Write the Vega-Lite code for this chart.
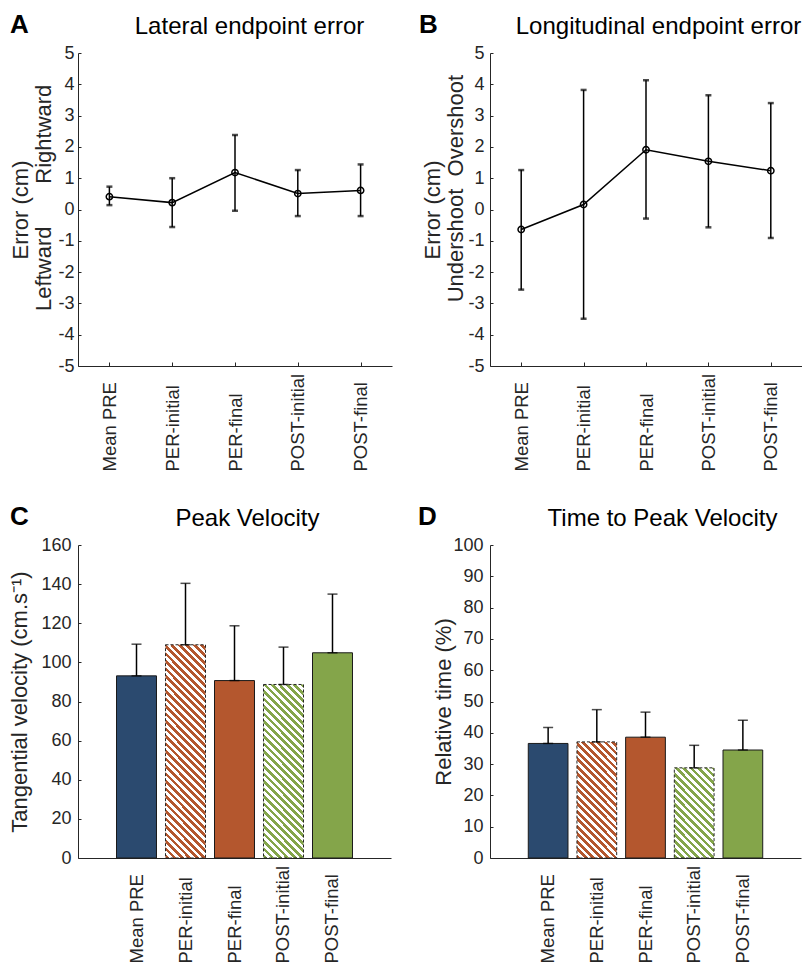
{
 "$schema": "https://vega.github.io/schema/vega-lite/v6.json",
 "autosize": {"type": "pad"},
 "padding": {"left": 8, "top": 12, "right": 0, "bottom": 0},
 "background": "white",
 "datasets": {
  "lat": [
   {"cond": "Mean PRE", "mean": 0.41, "lo": 0.14, "hi": 0.73},
   {"cond": "PER-initial", "mean": 0.22, "lo": -0.56, "hi": 1.0},
   {"cond": "PER-final", "mean": 1.18, "lo": -0.04, "hi": 2.38},
   {"cond": "POST-initial", "mean": 0.51, "lo": -0.21, "hi": 1.26},
   {"cond": "POST-final", "mean": 0.61, "lo": -0.21, "hi": 1.44}
  ],
  "lon": [
   {"cond": "Mean PRE", "mean": -0.64, "lo": -2.56, "hi": 1.26},
   {"cond": "PER-initial", "mean": 0.16, "lo": -3.49, "hi": 3.82},
   {"cond": "PER-final", "mean": 1.91, "lo": -0.29, "hi": 4.13},
   {"cond": "POST-initial", "mean": 1.54, "lo": -0.57, "hi": 3.65},
   {"cond": "POST-final", "mean": 1.24, "lo": -0.91, "hi": 3.40}
  ],
  "vel": [
   {"cond": "Mean PRE", "mean": 93.1, "hi": 109.3},
   {"cond": "PER-initial", "mean": 109.0, "hi": 140.4},
   {"cond": "PER-final", "mean": 90.7, "hi": 118.7},
   {"cond": "POST-initial", "mean": 88.7, "hi": 107.8},
   {"cond": "POST-final", "mean": 104.9, "hi": 134.9}
  ],
  "tpv": [
   {"cond": "Mean PRE", "mean": 36.6, "hi": 41.7},
   {"cond": "PER-initial", "mean": 37.1, "hi": 47.4},
   {"cond": "PER-final", "mean": 38.6, "hi": 46.6},
   {"cond": "POST-initial", "mean": 28.8, "hi": 36.0},
   {"cond": "POST-final", "mean": 34.5, "hi": 44.0}
  ]
 },
 "columns": 2,
 "spacing": {"row": 179, "column": 98},
 "bounds": "flush",
 "concat": [
  {
   "width": 314, "height": 313,
   "title": {"text": "A", "anchor": "start", "frame": "group", "dx": -68, "dy": 45, "offset": 0, "baseline": "alphabetic", "fontSize": 26, "fontWeight": "bold"},
   "data": {"name": "lat"},
   "resolve": {"axis": {"x": "independent", "y": "independent"}},
   "encoding": {"x": {"field": "cond", "type": "nominal", "scale": {"type": "point", "padding": 0.5, "domain": ["Mean PRE", "PER-initial", "PER-final", "POST-initial", "POST-final"]}, "axis": null}},
   "layer": [
    {"mark": {"type": "rule", "color": "black", "strokeWidth": 1.5}, "encoding": {
      "x": {"field": "cond", "type": "nominal", "scale": {"type": "point", "padding": 0.5, "domain": ["Mean PRE", "PER-initial", "PER-final", "POST-initial", "POST-final"]}, "axis": {"orient": "bottom", "title": null, "labelAngle": -90, "labelAlign": "left", "labelBaseline": "middle", "labelPadding": 109, "tickSize": -4, "labelOverlap": false, "labelFontSize": 18.5, "labelLimit": 200}},
      "y": {"field": "lo", "type": "quantitative", "scale": {"domain": [-5, 5], "nice": false, "zero": false}, "axis": {"orient": "left", "title": ["Error (cm)", "\u200b\u00a0\u00a0\u00a0\u00a0Leftward\u00a0\u00a0\u00a0\u00a0\u00a0\u00a0\u00a0Rightward"], "values": [-5, -4, -3, -2, -1, 0, 1, 2, 3, 4, 5], "labelExpr": "'' + datum.value", "labelOverlap": false, "tickSize": -3, "labelPadding": 7, "titlePadding": 2, "titleLineHeight": 23, "labelFontSize": 18, "titleFontSize": 22}},
      "y2": {"field": "hi"}}},
    {"mark": {"type": "tick", "color": "black", "size": 6, "thickness": 2.5}, "encoding": {"y": {"field": "lo", "type": "quantitative", "scale": {"domain": [-5, 5], "nice": false, "zero": false}, "axis": null}}},
    {"mark": {"type": "tick", "color": "black", "size": 6, "thickness": 2.5}, "encoding": {"y": {"field": "hi", "type": "quantitative", "scale": {"domain": [-5, 5], "nice": false, "zero": false}, "axis": null}}},
    {"mark": {"type": "line", "color": "black", "strokeWidth": 1.5}, "encoding": {
      "x": {"field": "cond", "type": "nominal", "sort": ["Mean PRE", "PER-initial", "PER-final", "POST-initial", "POST-final"], "scale": {"type": "point", "padding": 0.5, "domain": ["Mean PRE", "PER-initial", "PER-final", "POST-initial", "POST-final"]}, "axis": {"orient": "top", "title": "Lateral endpoint error", "labels": false, "ticks": false, "domain": false, "grid": false, "titleFontSize": 24, "titleFontWeight": "normal", "titleColor": "#000000", "titleX": 171, "titleY": -20, "titleBaseline": "alphabetic", "titleAlign": "center"}},
      "y": {"field": "mean", "type": "quantitative", "scale": {"domain": [-5, 5], "nice": false, "zero": false}, "axis": null}}},
    {"mark": {"type": "point", "shape": "circle", "filled": false, "color": "black", "size": 40, "strokeWidth": 1.5, "opacity": 1}, "encoding": {"y": {"field": "mean", "type": "quantitative", "scale": {"domain": [-5, 5], "nice": false, "zero": false}, "axis": null}}}
   ]
  },
  {
   "width": 312, "height": 313,
   "title": {"text": "B", "anchor": "start", "frame": "group", "dx": -71, "dy": 45, "offset": 0, "baseline": "alphabetic", "fontSize": 26, "fontWeight": "bold"},
   "data": {"name": "lon"},
   "resolve": {"axis": {"x": "independent", "y": "independent"}},
   "encoding": {"x": {"field": "cond", "type": "nominal", "scale": {"type": "point", "padding": 0.5, "domain": ["Mean PRE", "PER-initial", "PER-final", "POST-initial", "POST-final"]}, "axis": null}},
   "layer": [
    {"mark": {"type": "rule", "color": "black", "strokeWidth": 1.5}, "encoding": {
      "x": {"field": "cond", "type": "nominal", "scale": {"type": "point", "padding": 0.5, "domain": ["Mean PRE", "PER-initial", "PER-final", "POST-initial", "POST-final"]}, "axis": {"orient": "bottom", "title": null, "labelAngle": -90, "labelAlign": "left", "labelBaseline": "middle", "labelPadding": 109, "tickSize": -4, "labelOverlap": false, "labelFontSize": 18.5, "labelLimit": 200}},
      "y": {"field": "lo", "type": "quantitative", "scale": {"domain": [-5, 5], "nice": false, "zero": false}, "axis": {"orient": "left", "title": ["Error (cm)", "\u200b\u00a0\u00a0\u00a0\u00a0\u00a0\u00a0\u00a0Undershoot\u00a0\u00a0Overshoot"], "values": [-5, -4, -3, -2, -1, 0, 1, 2, 3, 4, 5], "labelExpr": "'' + datum.value", "labelOverlap": false, "tickSize": -3, "labelPadding": 9, "titlePadding": 0, "titleLineHeight": 23, "labelFontSize": 18, "titleFontSize": 22}},
      "y2": {"field": "hi"}}},
    {"mark": {"type": "tick", "color": "black", "size": 6, "thickness": 2.5}, "encoding": {"y": {"field": "lo", "type": "quantitative", "scale": {"domain": [-5, 5], "nice": false, "zero": false}, "axis": null}}},
    {"mark": {"type": "tick", "color": "black", "size": 6, "thickness": 2.5}, "encoding": {"y": {"field": "hi", "type": "quantitative", "scale": {"domain": [-5, 5], "nice": false, "zero": false}, "axis": null}}},
    {"mark": {"type": "line", "color": "black", "strokeWidth": 1.5}, "encoding": {
      "x": {"field": "cond", "type": "nominal", "sort": ["Mean PRE", "PER-initial", "PER-final", "POST-initial", "POST-final"], "scale": {"type": "point", "padding": 0.5, "domain": ["Mean PRE", "PER-initial", "PER-final", "POST-initial", "POST-final"]}, "axis": {"orient": "top", "title": "Longitudinal endpoint error", "labels": false, "ticks": false, "domain": false, "grid": false, "titleFontSize": 24, "titleFontWeight": "normal", "titleColor": "#000000", "titleX": 168, "titleY": -20, "titleBaseline": "alphabetic", "titleAlign": "center"}},
      "y": {"field": "mean", "type": "quantitative", "scale": {"domain": [-5, 5], "nice": false, "zero": false}, "axis": null}}},
    {"mark": {"type": "point", "shape": "circle", "filled": false, "color": "black", "size": 40, "strokeWidth": 1.5, "opacity": 1}, "encoding": {"y": {"field": "mean", "type": "quantitative", "scale": {"domain": [-5, 5], "nice": false, "zero": false}, "axis": null}}}
   ]
  },
  {
   "width": 313, "height": 313,
   "title": {"text": "C", "anchor": "start", "frame": "group", "dx": -68, "dy": 45, "offset": 0, "baseline": "alphabetic", "fontSize": 26, "fontWeight": "bold"},
   "data": {"name": "vel"},
   "resolve": {"axis": {"x": "independent", "y": "independent"}},
   "encoding": {"x": {"field": "cond", "type": "nominal", "scale": {"type": "band", "domain": ["Mean PRE", "PER-initial", "PER-final", "POST-initial", "POST-final"], "paddingInner": 0.184, "paddingOuter": 0.786}, "axis": null}},
   "layer": [
    {"transform": [{"filter": {"field": "cond", "oneOf": ["Mean PRE", "PER-final", "POST-final"]}}], "mark": {"type": "bar", "stroke": "#1a1a1a", "strokeWidth": 1}, "encoding": {
      "x": {"field": "cond", "type": "nominal", "scale": {"type": "band", "domain": ["Mean PRE", "PER-initial", "PER-final", "POST-initial", "POST-final"], "paddingInner": 0.184, "paddingOuter": 0.786}, "axis": {"orient": "bottom", "title": null, "labelAngle": -90, "labelAlign": "left", "labelBaseline": "middle", "labelPadding": 109, "tickSize": -4, "labelOverlap": false, "labelFontSize": 18.5, "labelLimit": 200}},
      "y": {"field": "mean", "type": "quantitative", "scale": {"domain": [0, 160], "nice": false}, "axis": {"orient": "left", "title": "Tangential velocity (cm.s\u207b\u00b9)", "values": [0, 20, 40, 60, 80, 100, 120, 140, 160], "labelOverlap": false, "tickSize": -3, "labelPadding": 10, "titlePadding": 9, "labelFontSize": 18, "titleFontSize": 22}},
      "fill": {"field": "cond", "type": "nominal", "scale": {"domain": ["Mean PRE", "PER-final", "POST-final"], "range": ["#2b4a6f", "#b4572e", "#84a54a"]}, "legend": null}}},
    {"transform": [{"filter": {"field": "cond", "equal": "PER-initial"}}], "mark": {"type": "bar", "stroke": "#262626", "strokeDash": [3, 2], "strokeWidth": 1, "fill": {"gradient": "linear", "x1": 0, "y1": 1, "x2": 0.3187, "y2": -0.6988, "stops": [
{"offset":0,"color":"#b4572e"},
{"offset":0.01,"color":"#b4572e"},{"offset":0.01,"color":"#fff"},{"offset":0.02,"color":"#fff"},{"offset":0.02,"color":"#b4572e"},
{"offset":0.03,"color":"#b4572e"},{"offset":0.03,"color":"#fff"},{"offset":0.04,"color":"#fff"},{"offset":0.04,"color":"#b4572e"},
{"offset":0.05,"color":"#b4572e"},{"offset":0.05,"color":"#fff"},{"offset":0.06,"color":"#fff"},{"offset":0.06,"color":"#b4572e"},
{"offset":0.07,"color":"#b4572e"},{"offset":0.07,"color":"#fff"},{"offset":0.08,"color":"#fff"},{"offset":0.08,"color":"#b4572e"},
{"offset":0.09,"color":"#b4572e"},{"offset":0.09,"color":"#fff"},{"offset":0.10,"color":"#fff"},{"offset":0.10,"color":"#b4572e"},
{"offset":0.11,"color":"#b4572e"},{"offset":0.11,"color":"#fff"},{"offset":0.12,"color":"#fff"},{"offset":0.12,"color":"#b4572e"},
{"offset":0.13,"color":"#b4572e"},{"offset":0.13,"color":"#fff"},{"offset":0.14,"color":"#fff"},{"offset":0.14,"color":"#b4572e"},
{"offset":0.15,"color":"#b4572e"},{"offset":0.15,"color":"#fff"},{"offset":0.16,"color":"#fff"},{"offset":0.16,"color":"#b4572e"},
{"offset":0.17,"color":"#b4572e"},{"offset":0.17,"color":"#fff"},{"offset":0.18,"color":"#fff"},{"offset":0.18,"color":"#b4572e"},
{"offset":0.19,"color":"#b4572e"},{"offset":0.19,"color":"#fff"},{"offset":0.20,"color":"#fff"},{"offset":0.20,"color":"#b4572e"},
{"offset":0.21,"color":"#b4572e"},{"offset":0.21,"color":"#fff"},{"offset":0.22,"color":"#fff"},{"offset":0.22,"color":"#b4572e"},
{"offset":0.23,"color":"#b4572e"},{"offset":0.23,"color":"#fff"},{"offset":0.24,"color":"#fff"},{"offset":0.24,"color":"#b4572e"},
{"offset":0.25,"color":"#b4572e"},{"offset":0.25,"color":"#fff"},{"offset":0.26,"color":"#fff"},{"offset":0.26,"color":"#b4572e"},
{"offset":0.27,"color":"#b4572e"},{"offset":0.27,"color":"#fff"},{"offset":0.28,"color":"#fff"},{"offset":0.28,"color":"#b4572e"},
{"offset":0.29,"color":"#b4572e"},{"offset":0.29,"color":"#fff"},{"offset":0.30,"color":"#fff"},{"offset":0.30,"color":"#b4572e"},
{"offset":0.31,"color":"#b4572e"},{"offset":0.31,"color":"#fff"},{"offset":0.32,"color":"#fff"},{"offset":0.32,"color":"#b4572e"},
{"offset":0.33,"color":"#b4572e"},{"offset":0.33,"color":"#fff"},{"offset":0.34,"color":"#fff"},{"offset":0.34,"color":"#b4572e"},
{"offset":0.35,"color":"#b4572e"},{"offset":0.35,"color":"#fff"},{"offset":0.36,"color":"#fff"},{"offset":0.36,"color":"#b4572e"},
{"offset":0.37,"color":"#b4572e"},{"offset":0.37,"color":"#fff"},{"offset":0.38,"color":"#fff"},{"offset":0.38,"color":"#b4572e"},
{"offset":0.39,"color":"#b4572e"},{"offset":0.39,"color":"#fff"},{"offset":0.40,"color":"#fff"},{"offset":0.40,"color":"#b4572e"},
{"offset":0.41,"color":"#b4572e"},{"offset":0.41,"color":"#fff"},{"offset":0.42,"color":"#fff"},{"offset":0.42,"color":"#b4572e"},
{"offset":0.43,"color":"#b4572e"},{"offset":0.43,"color":"#fff"},{"offset":0.44,"color":"#fff"},{"offset":0.44,"color":"#b4572e"},
{"offset":0.45,"color":"#b4572e"},{"offset":0.45,"color":"#fff"},{"offset":0.46,"color":"#fff"},{"offset":0.46,"color":"#b4572e"},
{"offset":0.47,"color":"#b4572e"},{"offset":0.47,"color":"#fff"},{"offset":0.48,"color":"#fff"},{"offset":0.48,"color":"#b4572e"},
{"offset":0.49,"color":"#b4572e"},{"offset":0.49,"color":"#fff"},{"offset":0.50,"color":"#fff"},{"offset":0.50,"color":"#b4572e"},
{"offset":0.51,"color":"#b4572e"},{"offset":0.51,"color":"#fff"},{"offset":0.52,"color":"#fff"},{"offset":0.52,"color":"#b4572e"},
{"offset":0.53,"color":"#b4572e"},{"offset":0.53,"color":"#fff"},{"offset":0.54,"color":"#fff"},{"offset":0.54,"color":"#b4572e"},
{"offset":0.55,"color":"#b4572e"},{"offset":0.55,"color":"#fff"},{"offset":0.56,"color":"#fff"},{"offset":0.56,"color":"#b4572e"},
{"offset":0.57,"color":"#b4572e"},{"offset":0.57,"color":"#fff"},{"offset":0.58,"color":"#fff"},{"offset":0.58,"color":"#b4572e"},
{"offset":0.59,"color":"#b4572e"},{"offset":0.59,"color":"#fff"},{"offset":0.60,"color":"#fff"},{"offset":0.60,"color":"#b4572e"},
{"offset":0.61,"color":"#b4572e"},{"offset":0.61,"color":"#fff"},{"offset":0.62,"color":"#fff"},{"offset":0.62,"color":"#b4572e"},
{"offset":0.63,"color":"#b4572e"},{"offset":0.63,"color":"#fff"},{"offset":0.64,"color":"#fff"},{"offset":0.64,"color":"#b4572e"},
{"offset":0.65,"color":"#b4572e"},{"offset":0.65,"color":"#fff"},{"offset":0.66,"color":"#fff"},{"offset":0.66,"color":"#b4572e"},
{"offset":0.67,"color":"#b4572e"},{"offset":0.67,"color":"#fff"},{"offset":0.68,"color":"#fff"}
]}}, "encoding": {"y": {"field": "mean", "type": "quantitative", "scale": {"domain": [0, 160], "nice": false}, "axis": null}}},
    {"transform": [{"filter": {"field": "cond", "equal": "POST-initial"}}], "mark": {"type": "bar", "stroke": "#262626", "strokeDash": [3, 2], "strokeWidth": 1, "fill": {"gradient": "linear", "x1": 0, "y1": 1, "x2": 0.4730, "y2": -1.0521, "stops": [
{"offset":0,"color":"#84a54a"},
{"offset":0.01,"color":"#84a54a"},{"offset":0.01,"color":"#fff"},{"offset":0.02,"color":"#fff"},{"offset":0.02,"color":"#84a54a"},
{"offset":0.03,"color":"#84a54a"},{"offset":0.03,"color":"#fff"},{"offset":0.04,"color":"#fff"},{"offset":0.04,"color":"#84a54a"},
{"offset":0.05,"color":"#84a54a"},{"offset":0.05,"color":"#fff"},{"offset":0.06,"color":"#fff"},{"offset":0.06,"color":"#84a54a"},
{"offset":0.07,"color":"#84a54a"},{"offset":0.07,"color":"#fff"},{"offset":0.08,"color":"#fff"},{"offset":0.08,"color":"#84a54a"},
{"offset":0.09,"color":"#84a54a"},{"offset":0.09,"color":"#fff"},{"offset":0.10,"color":"#fff"},{"offset":0.10,"color":"#84a54a"},
{"offset":0.11,"color":"#84a54a"},{"offset":0.11,"color":"#fff"},{"offset":0.12,"color":"#fff"},{"offset":0.12,"color":"#84a54a"},
{"offset":0.13,"color":"#84a54a"},{"offset":0.13,"color":"#fff"},{"offset":0.14,"color":"#fff"},{"offset":0.14,"color":"#84a54a"},
{"offset":0.15,"color":"#84a54a"},{"offset":0.15,"color":"#fff"},{"offset":0.16,"color":"#fff"},{"offset":0.16,"color":"#84a54a"},
{"offset":0.17,"color":"#84a54a"},{"offset":0.17,"color":"#fff"},{"offset":0.18,"color":"#fff"},{"offset":0.18,"color":"#84a54a"},
{"offset":0.19,"color":"#84a54a"},{"offset":0.19,"color":"#fff"},{"offset":0.20,"color":"#fff"},{"offset":0.20,"color":"#84a54a"},
{"offset":0.21,"color":"#84a54a"},{"offset":0.21,"color":"#fff"},{"offset":0.22,"color":"#fff"},{"offset":0.22,"color":"#84a54a"},
{"offset":0.23,"color":"#84a54a"},{"offset":0.23,"color":"#fff"},{"offset":0.24,"color":"#fff"},{"offset":0.24,"color":"#84a54a"},
{"offset":0.25,"color":"#84a54a"},{"offset":0.25,"color":"#fff"},{"offset":0.26,"color":"#fff"},{"offset":0.26,"color":"#84a54a"},
{"offset":0.27,"color":"#84a54a"},{"offset":0.27,"color":"#fff"},{"offset":0.28,"color":"#fff"},{"offset":0.28,"color":"#84a54a"},
{"offset":0.29,"color":"#84a54a"},{"offset":0.29,"color":"#fff"},{"offset":0.30,"color":"#fff"},{"offset":0.30,"color":"#84a54a"},
{"offset":0.31,"color":"#84a54a"},{"offset":0.31,"color":"#fff"},{"offset":0.32,"color":"#fff"},{"offset":0.32,"color":"#84a54a"},
{"offset":0.33,"color":"#84a54a"},{"offset":0.33,"color":"#fff"},{"offset":0.34,"color":"#fff"},{"offset":0.34,"color":"#84a54a"},
{"offset":0.35,"color":"#84a54a"},{"offset":0.35,"color":"#fff"},{"offset":0.36,"color":"#fff"},{"offset":0.36,"color":"#84a54a"},
{"offset":0.37,"color":"#84a54a"},{"offset":0.37,"color":"#fff"},{"offset":0.38,"color":"#fff"},{"offset":0.38,"color":"#84a54a"},
{"offset":0.39,"color":"#84a54a"},{"offset":0.39,"color":"#fff"},{"offset":0.40,"color":"#fff"},{"offset":0.40,"color":"#84a54a"},
{"offset":0.41,"color":"#84a54a"},{"offset":0.41,"color":"#fff"},{"offset":0.42,"color":"#fff"},{"offset":0.42,"color":"#84a54a"},
{"offset":0.43,"color":"#84a54a"},{"offset":0.43,"color":"#fff"},{"offset":0.44,"color":"#fff"},{"offset":0.44,"color":"#84a54a"},
{"offset":0.45,"color":"#84a54a"},{"offset":0.45,"color":"#fff"},{"offset":0.46,"color":"#fff"},{"offset":0.46,"color":"#84a54a"},
{"offset":0.47,"color":"#84a54a"},{"offset":0.47,"color":"#fff"},{"offset":0.48,"color":"#fff"},{"offset":0.48,"color":"#84a54a"},
{"offset":0.49,"color":"#84a54a"},{"offset":0.49,"color":"#fff"},{"offset":0.50,"color":"#fff"},{"offset":0.50,"color":"#84a54a"},
{"offset":0.51,"color":"#84a54a"},{"offset":0.51,"color":"#fff"},{"offset":0.52,"color":"#fff"},{"offset":0.52,"color":"#84a54a"},
{"offset":0.53,"color":"#84a54a"},{"offset":0.53,"color":"#fff"},{"offset":0.54,"color":"#fff"},{"offset":0.54,"color":"#84a54a"},
{"offset":0.55,"color":"#84a54a"},{"offset":0.55,"color":"#fff"},{"offset":0.56,"color":"#fff"},{"offset":0.56,"color":"#84a54a"},
{"offset":0.57,"color":"#84a54a"},{"offset":0.57,"color":"#fff"},{"offset":0.58,"color":"#fff"}
]}}, "encoding": {"y": {"field": "mean", "type": "quantitative", "scale": {"domain": [0, 160], "nice": false}, "axis": null}}},
    {"mark": {"type": "rule", "color": "black", "strokeWidth": 1.5}, "encoding": {
      "x": {"field": "cond", "type": "nominal", "scale": {"type": "band", "domain": ["Mean PRE", "PER-initial", "PER-final", "POST-initial", "POST-final"], "paddingInner": 0.184, "paddingOuter": 0.786}, "axis": {"orient": "top", "title": "Peak Velocity", "labels": false, "ticks": false, "domain": false, "grid": false, "titleFontSize": 24, "titleFontWeight": "normal", "titleColor": "#000000", "titleX": 169, "titleY": -20, "titleBaseline": "alphabetic", "titleAlign": "center"}},
      "y": {"field": "mean", "type": "quantitative", "scale": {"domain": [0, 160], "nice": false}, "axis": null}, "y2": {"field": "hi"}}},
    {"mark": {"type": "tick", "color": "black", "size": 10, "thickness": 1.5}, "encoding": {"y": {"field": "hi", "type": "quantitative", "scale": {"domain": [0, 160], "nice": false}, "axis": null}}},
    {"mark": {"type": "tick", "color": "black", "size": 10, "thickness": 1.5}, "encoding": {"y": {"field": "mean", "type": "quantitative", "scale": {"domain": [0, 160], "nice": false}, "axis": null}}}
   ]
  },
  {
   "width": 311, "height": 313,
   "title": {"text": "D", "anchor": "start", "frame": "group", "dx": -72, "dy": 45, "offset": 0, "baseline": "alphabetic", "fontSize": 26, "fontWeight": "bold"},
   "data": {"name": "tpv"},
   "resolve": {"axis": {"x": "independent", "y": "independent"}},
   "encoding": {"x": {"field": "cond", "type": "nominal", "scale": {"type": "band", "domain": ["Mean PRE", "PER-initial", "PER-final", "POST-initial", "POST-final"], "paddingInner": 0.184, "paddingOuter": 0.786}, "axis": null}},
   "layer": [
    {"transform": [{"filter": {"field": "cond", "oneOf": ["Mean PRE", "PER-final", "POST-final"]}}], "mark": {"type": "bar", "stroke": "#1a1a1a", "strokeWidth": 1}, "encoding": {
      "x": {"field": "cond", "type": "nominal", "scale": {"type": "band", "domain": ["Mean PRE", "PER-initial", "PER-final", "POST-initial", "POST-final"], "paddingInner": 0.184, "paddingOuter": 0.786}, "axis": {"orient": "bottom", "title": null, "labelAngle": -90, "labelAlign": "left", "labelBaseline": "middle", "labelPadding": 109, "tickSize": -4, "labelOverlap": false, "labelFontSize": 18.5, "labelLimit": 200}},
      "y": {"field": "mean", "type": "quantitative", "scale": {"domain": [0, 100], "nice": false}, "axis": {"orient": "left", "title": "Relative time (%)", "values": [0, 10, 20, 30, 40, 50, 60, 70, 80, 90, 100], "labelOverlap": false, "tickSize": -3, "labelPadding": 10, "titlePadding": -3, "labelFontSize": 18, "titleFontSize": 22}},
      "fill": {"field": "cond", "type": "nominal", "scale": {"domain": ["Mean PRE", "PER-final", "POST-final"], "range": ["#2b4a6f", "#b4572e", "#84a54a"]}, "legend": null}}},
    {"transform": [{"filter": {"field": "cond", "equal": "PER-initial"}}], "mark": {"type": "bar", "stroke": "#262626", "strokeDash": [3, 2], "strokeWidth": 1, "fill": {"gradient": "linear", "x1": 0, "y1": 1, "x2": 0.9944, "y2": -1.8869, "stops": [
{"offset":0,"color":"#b4572e"},
{"offset":0.01,"color":"#b4572e"},{"offset":0.01,"color":"#fff"},{"offset":0.02,"color":"#fff"},{"offset":0.02,"color":"#b4572e"},
{"offset":0.03,"color":"#b4572e"},{"offset":0.03,"color":"#fff"},{"offset":0.04,"color":"#fff"},{"offset":0.04,"color":"#b4572e"},
{"offset":0.05,"color":"#b4572e"},{"offset":0.05,"color":"#fff"},{"offset":0.06,"color":"#fff"},{"offset":0.06,"color":"#b4572e"},
{"offset":0.07,"color":"#b4572e"},{"offset":0.07,"color":"#fff"},{"offset":0.08,"color":"#fff"},{"offset":0.08,"color":"#b4572e"},
{"offset":0.09,"color":"#b4572e"},{"offset":0.09,"color":"#fff"},{"offset":0.10,"color":"#fff"},{"offset":0.10,"color":"#b4572e"},
{"offset":0.11,"color":"#b4572e"},{"offset":0.11,"color":"#fff"},{"offset":0.12,"color":"#fff"},{"offset":0.12,"color":"#b4572e"},
{"offset":0.13,"color":"#b4572e"},{"offset":0.13,"color":"#fff"},{"offset":0.14,"color":"#fff"},{"offset":0.14,"color":"#b4572e"},
{"offset":0.15,"color":"#b4572e"},{"offset":0.15,"color":"#fff"},{"offset":0.16,"color":"#fff"},{"offset":0.16,"color":"#b4572e"},
{"offset":0.17,"color":"#b4572e"},{"offset":0.17,"color":"#fff"},{"offset":0.18,"color":"#fff"},{"offset":0.18,"color":"#b4572e"},
{"offset":0.19,"color":"#b4572e"},{"offset":0.19,"color":"#fff"},{"offset":0.20,"color":"#fff"},{"offset":0.20,"color":"#b4572e"},
{"offset":0.21,"color":"#b4572e"},{"offset":0.21,"color":"#fff"},{"offset":0.22,"color":"#fff"},{"offset":0.22,"color":"#b4572e"},
{"offset":0.23,"color":"#b4572e"},{"offset":0.23,"color":"#fff"},{"offset":0.24,"color":"#fff"},{"offset":0.24,"color":"#b4572e"},
{"offset":0.25,"color":"#b4572e"},{"offset":0.25,"color":"#fff"},{"offset":0.26,"color":"#fff"},{"offset":0.26,"color":"#b4572e"},
{"offset":0.27,"color":"#b4572e"},{"offset":0.27,"color":"#fff"},{"offset":0.28,"color":"#fff"},{"offset":0.28,"color":"#b4572e"},
{"offset":0.29,"color":"#b4572e"},{"offset":0.29,"color":"#fff"},{"offset":0.30,"color":"#fff"},{"offset":0.30,"color":"#b4572e"},
{"offset":0.31,"color":"#b4572e"},{"offset":0.31,"color":"#fff"},{"offset":0.32,"color":"#fff"},{"offset":0.32,"color":"#b4572e"},
{"offset":0.33,"color":"#b4572e"},{"offset":0.33,"color":"#fff"},{"offset":0.34,"color":"#fff"},{"offset":0.34,"color":"#b4572e"},
{"offset":0.35,"color":"#b4572e"},{"offset":0.35,"color":"#fff"},{"offset":0.36,"color":"#fff"},{"offset":0.36,"color":"#b4572e"},
{"offset":0.37,"color":"#b4572e"},{"offset":0.37,"color":"#fff"},{"offset":0.38,"color":"#fff"},{"offset":0.38,"color":"#b4572e"},
{"offset":0.39,"color":"#b4572e"},{"offset":0.39,"color":"#fff"},{"offset":0.40,"color":"#fff"},{"offset":0.40,"color":"#b4572e"},
{"offset":0.41,"color":"#b4572e"},{"offset":0.41,"color":"#fff"},{"offset":0.42,"color":"#fff"}
]}}, "encoding": {"y": {"field": "mean", "type": "quantitative", "scale": {"domain": [0, 100], "nice": false}, "axis": null}}},
    {"transform": [{"filter": {"field": "cond", "equal": "POST-initial"}}], "mark": {"type": "bar", "stroke": "#262626", "strokeDash": [3, 2], "strokeWidth": 1, "fill": {"gradient": "linear", "x1": 0, "y1": 1, "x2": 1.5424, "y2": -2.4758, "stops": [
{"offset":0,"color":"#84a54a"},
{"offset":0.01,"color":"#84a54a"},{"offset":0.01,"color":"#fff"},{"offset":0.02,"color":"#fff"},{"offset":0.02,"color":"#84a54a"},
{"offset":0.03,"color":"#84a54a"},{"offset":0.03,"color":"#fff"},{"offset":0.04,"color":"#fff"},{"offset":0.04,"color":"#84a54a"},
{"offset":0.05,"color":"#84a54a"},{"offset":0.05,"color":"#fff"},{"offset":0.06,"color":"#fff"},{"offset":0.06,"color":"#84a54a"},
{"offset":0.07,"color":"#84a54a"},{"offset":0.07,"color":"#fff"},{"offset":0.08,"color":"#fff"},{"offset":0.08,"color":"#84a54a"},
{"offset":0.09,"color":"#84a54a"},{"offset":0.09,"color":"#fff"},{"offset":0.10,"color":"#fff"},{"offset":0.10,"color":"#84a54a"},
{"offset":0.11,"color":"#84a54a"},{"offset":0.11,"color":"#fff"},{"offset":0.12,"color":"#fff"},{"offset":0.12,"color":"#84a54a"},
{"offset":0.13,"color":"#84a54a"},{"offset":0.13,"color":"#fff"},{"offset":0.14,"color":"#fff"},{"offset":0.14,"color":"#84a54a"},
{"offset":0.15,"color":"#84a54a"},{"offset":0.15,"color":"#fff"},{"offset":0.16,"color":"#fff"},{"offset":0.16,"color":"#84a54a"},
{"offset":0.17,"color":"#84a54a"},{"offset":0.17,"color":"#fff"},{"offset":0.18,"color":"#fff"},{"offset":0.18,"color":"#84a54a"},
{"offset":0.19,"color":"#84a54a"},{"offset":0.19,"color":"#fff"},{"offset":0.20,"color":"#fff"},{"offset":0.20,"color":"#84a54a"},
{"offset":0.21,"color":"#84a54a"},{"offset":0.21,"color":"#fff"},{"offset":0.22,"color":"#fff"},{"offset":0.22,"color":"#84a54a"},
{"offset":0.23,"color":"#84a54a"},{"offset":0.23,"color":"#fff"},{"offset":0.24,"color":"#fff"},{"offset":0.24,"color":"#84a54a"},
{"offset":0.25,"color":"#84a54a"},{"offset":0.25,"color":"#fff"},{"offset":0.26,"color":"#fff"},{"offset":0.26,"color":"#84a54a"},
{"offset":0.27,"color":"#84a54a"},{"offset":0.27,"color":"#fff"},{"offset":0.28,"color":"#fff"},{"offset":0.28,"color":"#84a54a"},
{"offset":0.29,"color":"#84a54a"},{"offset":0.29,"color":"#fff"},{"offset":0.30,"color":"#fff"},{"offset":0.30,"color":"#84a54a"},
{"offset":0.31,"color":"#84a54a"},{"offset":0.31,"color":"#fff"},{"offset":0.32,"color":"#fff"},{"offset":0.32,"color":"#84a54a"},
{"offset":0.33,"color":"#84a54a"},{"offset":0.33,"color":"#fff"},{"offset":0.34,"color":"#fff"},{"offset":0.34,"color":"#84a54a"},
{"offset":0.35,"color":"#84a54a"}
]}}, "encoding": {"y": {"field": "mean", "type": "quantitative", "scale": {"domain": [0, 100], "nice": false}, "axis": null}}},
    {"mark": {"type": "rule", "color": "black", "strokeWidth": 1.5}, "encoding": {
      "x": {"field": "cond", "type": "nominal", "scale": {"type": "band", "domain": ["Mean PRE", "PER-initial", "PER-final", "POST-initial", "POST-final"], "paddingInner": 0.184, "paddingOuter": 0.786}, "axis": {"orient": "top", "title": "Time to Peak Velocity", "labels": false, "ticks": false, "domain": false, "grid": false, "titleFontSize": 24, "titleFontWeight": "normal", "titleColor": "#000000", "titleX": 172, "titleY": -20, "titleBaseline": "alphabetic", "titleAlign": "center"}},
      "y": {"field": "mean", "type": "quantitative", "scale": {"domain": [0, 100], "nice": false}, "axis": null}, "y2": {"field": "hi"}}},
    {"mark": {"type": "tick", "color": "black", "size": 10, "thickness": 1.5}, "encoding": {"y": {"field": "hi", "type": "quantitative", "scale": {"domain": [0, 100], "nice": false}, "axis": null}}},
    {"mark": {"type": "tick", "color": "black", "size": 10, "thickness": 1.5}, "encoding": {"y": {"field": "mean", "type": "quantitative", "scale": {"domain": [0, 100], "nice": false}, "axis": null}}}
   ]
  }
 ],
 "config": {
  "font": "Liberation Sans",
  "view": {"stroke": null},
  "axis": {"domainColor": "#262626", "tickColor": "#262626", "labelColor": "#262626", "titleColor": "#262626", "labelFont": "Liberation Sans", "titleFont": "Liberation Sans", "labelFontSize": 18, "titleFontSize": 22, "titleFontWeight": "normal", "grid": false, "domainWidth": 1, "tickWidth": 1, "labelOverlap": false},
  "title": {"font": "Liberation Sans", "color": "#000000"}
 }
}
